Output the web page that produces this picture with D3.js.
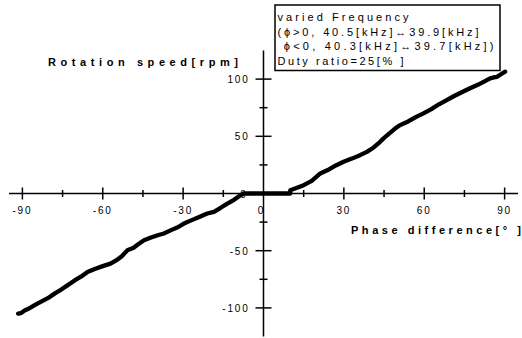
<!DOCTYPE html>
<html>
<head>
<meta charset="utf-8">
<script src="https://cdn.jsdelivr.net/npm/d3@7"></script>
<style>
body { margin: 0; background: #fff; }
svg { display: block; font-family: "Liberation Sans", Arial, sans-serif; }
</style>
</head>
<body>
<svg id="chart" width="522" height="338"></svg>
<script>
// measured curve, phase difference [deg] vs rotation speed [rpm]
const phase = [-91.6, -90.5, -89, -87.5, -85.6, -83, -80.5, -78, -75.5, -73.2, -70.5, -68, -65.7, -63, -60, -57.1,
  -55, -53, -50.8, -48.5, -46.5, -44.6, -42, -39.5, -37.2, -34.5, -32, -29.7, -27, -24, -21, -18.5, -16, -13.5,
  -11, -8.6, -7.3, 10, 10, 12.5, 15, 18, 21.2, 24, 27, 29.9, 33, 36, 38.6, 41, 43, 44.8, 47, 49, 51, 54, 57,
  59.7, 62.5, 65.5, 68.4, 71, 74, 77.1, 80, 82.5, 84.6, 86, 87.1, 88.5, 90.2];
const speed = [-105, -104.5, -102, -100.5, -97.8, -94.5, -91.5, -87.5, -84, -80.3, -76, -72.5, -68.6, -66, -63.5, -61.3,
  -58.5, -55, -49.7, -47.5, -44, -40.9, -38.5, -36.5, -35, -32, -29.5, -26.3, -23.5, -20.5, -17.5, -16, -12.5, -8.8,
  -5.5, -1.5, 0, 0, 2.9, 5, 7.3, 11, 17.5, 20.5, 24.5, 27.7, 30.5, 33.5, 36.4, 40, 44, 48.2, 52.5, 56.5, 59.8, 63, 67,
  70, 73.5, 78, 81.7, 85, 88.5, 92, 95, 98, 100.7, 101.5, 102, 104, 106.5];

const xMajor = [-90, -60, -30, 0, 30, 60, 90];
const xMinor = [-75, -45, -15, 15, 45, 75];
const yMajor = [-100, -50, 0, 50, 100];
const yMinor = [-75, -25, 25, 75];

const legendLines = [
  "varied Frequency",
  "(\u03d5>0, 40.5[kHz]\u219439.9[kHz]",
  " \u03d5<0, 40.3[kHz]\u219439.7[kHz])",
  "Duty ratio=25[% ]"
];

const svg = d3.select("#chart");
const x = d3.scaleLinear().domain([-95, 95]).range([9, 518]);
const y = d3.scaleLinear().domain([-125, 125]).range([336.5, 50.5]);

const x0 = x(0), y0 = y(0);

// axes through the origin
const xAxis = svg.append("g").attr("transform", `translate(0,${y0})`);
xAxis.append("line").attr("x1", x(-95)).attr("x2", x(95))
  .attr("stroke", "#000").attr("stroke-width", 1.5);
xAxis.selectAll(".maj").data(xMajor.filter(d => d !== 0)).enter().append("line")
  .attr("x1", d => x(d)).attr("x2", d => x(d)).attr("y1", -6).attr("y2", 6)
  .attr("stroke", "#000").attr("stroke-width", 1.5);
xAxis.selectAll(".min").data(xMinor).enter().append("line")
  .attr("x1", d => x(d)).attr("x2", d => x(d)).attr("y1", -3.5).attr("y2", 3.5)
  .attr("stroke", "#000").attr("stroke-width", 1.5);
xAxis.selectAll("text").data(xMajor).enter().append("text")
  .attr("x", d => d === 0 ? x(d) - 2 : x(d)).attr("y", 20)
  .attr("text-anchor", "middle").attr("font-size", 10).attr("letter-spacing", 1.8)
  .text(d => d);

const yAxis = svg.append("g").attr("transform", `translate(${x0},0)`);
yAxis.append("line").attr("y1", y(125)).attr("y2", y(-125))
  .attr("stroke", "#000").attr("stroke-width", 1.5);
yAxis.selectAll(".maj").data(yMajor.filter(d => d !== 0)).enter().append("line")
  .attr("y1", d => y(d)).attr("y2", d => y(d)).attr("x1", -8).attr("x2", 8)
  .attr("stroke", "#000").attr("stroke-width", 1.5);
yAxis.selectAll(".min").data(yMinor).enter().append("line")
  .attr("y1", d => y(d)).attr("y2", d => y(d)).attr("x1", -4).attr("x2", 4)
  .attr("stroke", "#000").attr("stroke-width", 1.5);
yAxis.selectAll("text").data(yMajor).enter().append("text")
  .attr("x", d => d === 0 ? -16 : -14).attr("y", d => y(d) + 4)
  .attr("text-anchor", "end").attr("font-size", 10).attr("letter-spacing", 1.8)
  .text(d => d);

// axis titles
svg.append("text").attr("x", 48).attr("y", 66)
  .attr("font-size", 11).attr("font-weight", "bold")
  .attr("textLength", 190).attr("lengthAdjust", "spacing")
  .text("Rotation speed[rpm]");
svg.append("text").attr("x", 351).attr("y", 234)
  .attr("font-size", 11).attr("font-weight", "bold")
  .attr("textLength", 170).attr("lengthAdjust", "spacing")
  .text("Phase difference[\u00b0 ]");

// curve
const pts = phase.map((p, i) => [p, speed[i]]);
svg.append("path").datum(pts)
  .attr("fill", "none").attr("stroke", "#000").attr("stroke-width", 4.3)
  .attr("stroke-linejoin", "round").attr("stroke-linecap", "round")
  .attr("d", d3.line().x(d => x(d[0])).y(d => y(d[1])));

// legend box
const lg = svg.append("g");
lg.append("rect").attr("x", 275).attr("y", 5).attr("width", 225).attr("height", 65.5)
  .attr("fill", "#fff").attr("stroke", "#000").attr("stroke-width", 1.5);
const lens = [131, 201, 216, 126];
lg.selectAll("text").data(legendLines).enter().append("text")
  .attr("x", 277.5).attr("y", (d, i) => 21 + i * 14.5)
  .attr("font-size", 11).attr("xml:space", "preserve")
  .attr("textLength", (d, i) => lens[i]).attr("lengthAdjust", "spacing")
  .text(d => d);
</script>
</body>
</html>
